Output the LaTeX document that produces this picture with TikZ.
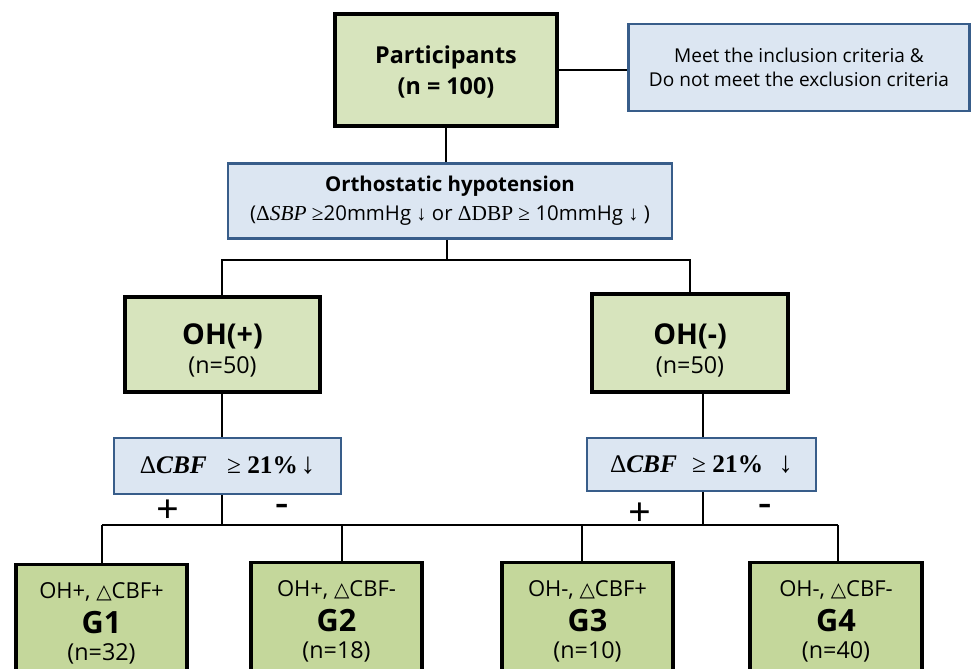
\documentclass[tikz,border=0pt]{standalone}
\usepackage[no-math]{fontspec}
\setmainfont{Open Sans}
\newfontfamily\dejavu{DejaVu Sans}
\newfontfamily\serif{Liberation Serif}
\definecolor{gfill}{RGB}{215,228,189}
\definecolor{gfillb}{RGB}{196,215,155}
\definecolor{bfill}{RGB}{220,230,242}
\definecolor{bdraw}{RGB}{56,93,138}
\tikzset{
  greenbox/.style={draw=black, line width=2.6pt, fill=gfill, inner sep=0pt, align=center},
  gbox/.style={draw=black, line width=2.6pt, fill=gfillb, inner sep=0pt, anchor=north},
  bluebox/.style={draw=bdraw, line width=2.2pt, fill=bfill, inner sep=0pt, align=center},
  conn/.style={draw=black, line width=2pt},
  txt/.style={inner sep=0pt},
  sign/.style={inner sep=0pt, font=\serif\bfseries\fontsize{30}{32}\selectfont}
}
\newcommand{\bigarrow}{{\fontsize{22}{20}\selectfont ↓}}
\begin{document}
\begin{tikzpicture}[x=0.75pt,y=-0.75pt]
\useasboundingbox (0,0) rectangle (973,668);
% top
\node[greenbox, minimum width=166.5pt, minimum height=84pt] (P) at (446,70) {};
\node[txt, font=\bfseries\fontsize{17.5}{23}\selectfont] (Pa) at (446,57) {Participants};
\node[txt, font=\bfseries\fontsize{17.5}{23}\selectfont] (Pb) at (446,88) {(n = 100)};
\node[bluebox, minimum width=256pt, minimum height=65.25pt, font=\fontsize{14.3}{18}\selectfont] (C) at (799,67.5) {Meet the inclusion criteria \&\\Do not meet the exclusion criteria};
\node[bluebox, minimum width=333pt, minimum height=56.25pt, font=\fontsize{15.3}{22}\selectfont] (O) at (450,201) {\textbf{Orthostatic hypotension}\\({\serif\fontsize{16}{22}\selectfont Δ\textit{SBP} ≥}20mmHg {\serif ↓} or {\serif\fontsize{16}{22}\selectfont ΔDBP ≥} 10mmHg {\serif ↓} )};
% OH boxes
\node[greenbox, minimum width=146.25pt, minimum height=71.25pt] (OHp) at (222.5,344.5) {};
\node[greenbox, minimum width=147pt, minimum height=73.5pt] (OHm) at (690,343) {};
\node[txt, font=\bfseries\fontsize{21.5}{24}\selectfont] (OHpa) at (222.5,336) {OH(+)};
\node[txt, font=\fontsize{17.5}{20}\selectfont] (OHpb) at (222.5,367) {(n=50)};
\node[txt, font=\bfseries\fontsize{21.5}{24}\selectfont] (OHma) at (690,336) {OH(-)};
\node[txt, font=\fontsize{17.5}{20}\selectfont] (OHmb) at (690,367) {(n=50)};
% CBF boxes
\node[bluebox, minimum width=170.25pt, minimum height=42pt, font=\serif\fontsize{19}{20}\selectfont] (CBFl) at (227.5,466) {Δ\textbf{\textit{CBF}}\hspace{0.8em}≥\hspace{0.25em}\textbf{21\%}\hspace{0.1em}\bigarrow};
\node[bluebox, minimum width=171.75pt, minimum height=39.75pt, font=\serif\fontsize{19}{20}\selectfont] (CBFr) at (701.5,464.5) {Δ\textbf{\textit{CBF}}\hspace{0.6em}≥\hspace{0.25em}\textbf{21\%}\hspace{0.6em}\bigarrow};
% G boxes
\node[gbox, minimum width=128.25pt, minimum height=105pt] (G1) at (101.5,563) {};
\node[gbox, minimum width=128.25pt, minimum height=105pt] (G2) at (336.5,561) {};
\node[gbox, minimum width=128.25pt, minimum height=105pt] (G3) at (587.5,561) {};
\node[gbox, minimum width=129pt, minimum height=105pt] (G4) at (836,561) {};
\foreach \g/\a/\b/\n in {G1/+/+/32, G2/+/-/18, G3/-/+/10, G4/-/-/40}{
  \node[txt, font=\fontsize{16.5}{18}\selectfont] (\g a) at ([yshift=-21.5pt]\g.north) {OH\a, {\dejavu\fontsize{15}{18}\selectfont △}CBF\b};
  \node[txt, font=\bfseries\fontsize{23}{26}\selectfont] (\g b) at ([yshift=-45pt]\g.north) {\g};
  \node[txt, font=\fontsize{17.5}{20}\selectfont] (\g c) at ([yshift=-68pt]\g.north) {(n=\n)};
}
% connectors
\draw[conn] (P.east) -- (P.east -| C.west);
\draw[conn] (P.south) -- (P.south |- O.north);
\coordinate (bt) at (447,260);
\draw[conn] (O.south -| bt) -- (bt);
\draw[conn] (OHp.north -| 222,0) |- (bt) -| (OHm.north);
\draw[conn] (OHp.south -| 222,0) -- (CBFl.north -| 222,0);
\draw[conn] (CBFr.north -| 703,0) -- (OHm.south -| 703,0);
\coordinate (busL) at (102,525);
\coordinate (busR) at (838,525);
\draw[conn] (busL) -- (busR);
\draw[conn] (CBFl.south -| 222,0) -- (busL -| 222,0);
\draw[conn] (CBFr.south -| 703,0) -- (busL -| 703,0);
\draw[conn] (G1.north -| busL) -- (busL);
\draw[conn] (G2.north -| 342,0) -- (busL -| 342,0);
\draw[conn] (G3.north -| 582,0) -- (busL -| 582,0);
\draw[conn] (G4.north -| busR) -- (busR);
% signs
\node[sign] (s1) at (168,511) {+};
\node[sign] (s2) at (282,510) {-};
\node[sign] (s3) at (640,514) {+};
\node[sign] (s4) at (765,510) {-};
\end{tikzpicture}
\end{document}
